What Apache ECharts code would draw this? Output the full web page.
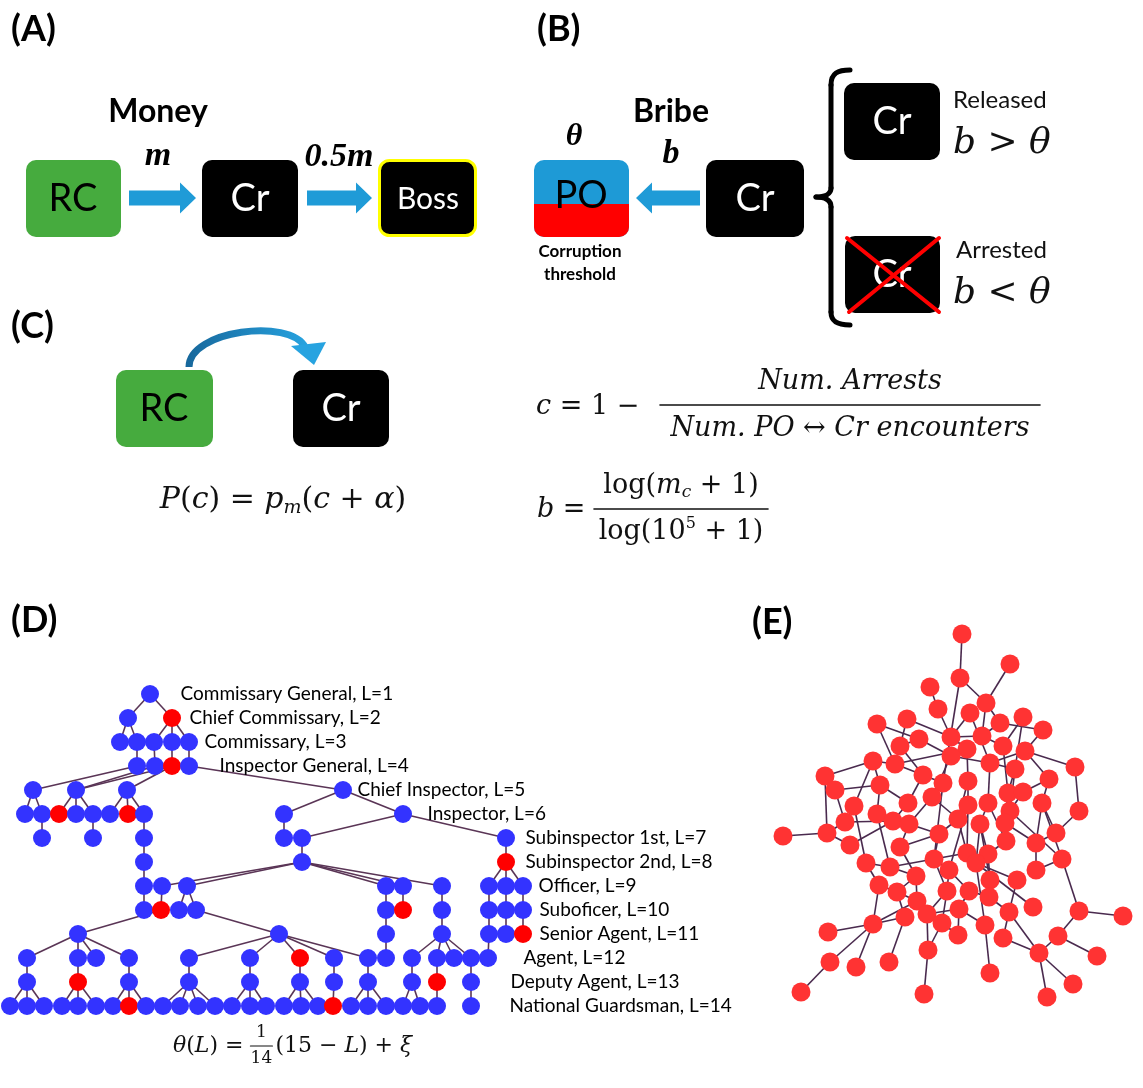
<!DOCTYPE html>
<html>
<head>
<meta charset="utf-8">
<script src="https://cdn.jsdelivr.net/npm/echarts@6.0.0/dist/echarts.min.js"></script>
<style>
  html, body { margin: 0; padding: 0; background: #fff; }
  #chart { width: 1143px; height: 1088px; }
</style>
</head>
<body>
<div id="chart"></div>
<script>
// ---------- (D) police hierarchy tree ----------
// horizontal position of every officer, one row per rank level L = 1..14
const treeRows = [
  [150],
  [128, 172],
  [120, 137, 154, 172, 189],
  [137, 155, 172, 189],
  [33, 76, 127, 343],
  [25, 42, 59, 76, 93, 110, 128, 144, 284, 403],
  [42, 93, 144, 284, 302, 506],
  [144, 302, 506],
  [144, 162, 187, 386, 403, 442, 489, 506, 523],
  [144, 161, 179, 196, 386, 403, 442, 489, 506, 523],
  [78, 279, 386, 442, 489, 506, 523],
  [27, 78, 96, 129, 189, 250, 300, 334, 368, 386, 412, 437, 454, 471, 488],
  [27, 78, 129, 189, 250, 300, 334, 368, 412, 437, 471],
  [10, 27, 44, 62, 78, 96, 113, 129, 146, 163, 180, 198, 215, 232, 250, 266, 284, 301, 318, 333, 351, 368, 386, 403, 420, 437, 471]
];
// corrupt officers: [level, index in row]
const treeCorrupt = [[2,1],[4,2],[6,2],[6,6],[8,2],[10,1],[10,5],[11,6],[12,6],[13,1],[13,9],[14,7],[14,19]];
// chain of command: [parent level, parent index, child index in next level]
const treeLinks = [
  [1,0,0],[1,0,1],
  [2,0,0],[2,0,1],[2,1,2],[2,1,3],[2,1,4],
  [3,1,0],[3,2,1],[3,3,2],[3,4,3],
  [4,0,0],[4,1,1],[4,2,1],[4,2,2],[4,3,3],
  [5,0,0],[5,0,1],[5,1,2],[5,1,3],[5,1,4],[5,2,5],[5,2,6],[5,2,7],[5,3,8],[5,3,9],
  [6,1,0],[6,4,1],[6,7,2],[6,8,3],[6,9,4],[6,9,5],
  [7,2,0],[7,4,1],[7,5,2],
  [8,0,0],[8,1,1],[8,1,2],[8,1,3],[8,1,4],[8,1,5],[8,2,6],[8,2,7],[8,2,8],
  [9,0,0],[9,1,1],[9,2,2],[9,2,3],[9,3,4],[9,4,5],[9,5,6],[9,6,7],[9,7,8],[9,8,9],
  [10,1,0],[10,3,1],[10,4,2],[10,6,3],[10,7,4],[10,8,5],[10,9,6],
  [11,0,0],[11,0,1],[11,0,2],[11,0,3],[11,1,4],[11,1,5],[11,1,6],[11,1,7],[11,1,8],[11,2,9],[11,3,10],[11,3,11],[11,3,12],[11,3,13],[11,4,14],
  [12,0,0],[12,1,1],[12,3,2],[12,4,3],[12,5,4],[12,6,5],[12,7,6],[12,8,7],[12,10,8],[12,11,9],[12,13,10],
  [13,0,0],[13,0,1],[13,0,2],[13,1,3],[13,1,4],[13,1,5],[13,2,6],[13,2,7],[13,2,8],[13,3,9],[13,3,10],[13,3,11],[13,3,12],
  [13,4,13],[13,4,14],[13,4,15],[13,5,16],[13,5,17],[13,5,18],[13,6,19],[13,7,20],[13,7,21],[13,7,22],[13,8,23],[13,8,24],[13,9,25],[13,10,26]
];
const rankNames = ['Commissary General', 'Chief Commissary', 'Commissary', 'Inspector General', 'Chief Inspector',
  'Inspector', 'Subinspector 1st', 'Subinspector 2nd', 'Officer', 'Suboficer', 'Senior Agent', 'Agent',
  'Deputy Agent', 'National Guardsman'];
const rankLabelX = [180, 189, 204, 219, 357, 427, 525, 525, 538, 539, 539, 523, 510, 509];

// ---------- (E) criminal network ----------
const netX = [202,250,200,170,226,178,210,147,117,240,263,283,159,191,222,140,207,243,265,191,113,135,230,315,255,65,163,289,208,183,
  120,75,248,263,172,282,148,228,208,94,319,250,117,133,149,85,198,220,245,23,67,179,296,90,140,246,276,207,228,216,
  174,302,106,130,189,276,156,230,257,119,137,187,209,229,157,273,199,249,319,363,145,167,113,182,225,298,68,198,243,168,
  279,337,70,96,129,230,313,41,164,287];
const netY = [24,54,68,77,93,99,103,109,114,113,107,120,129,127,126,136,139,136,141,146,151,154,153,157,159,166,165,169,171,173,
  175,180,183,182,187,193,193,193,195,196,201,201,204,211,214,212,209,214,213,226,223,224,223,235,237,231,233,243,244,253,
  249,249,253,257,260,260,266,270,270,275,282,281,281,287,291,297,299,302,301,306,307,304,314,313,315,326,322,325,328,340,
  343,346,352,357,352,363,374,382,384,387];
const netLinks = [
  [1,3],[2,5],[3,5],[3,30],[4,6],[6,14],[8,14],[8,16],[9,22],[13,20],[13,16],
  [5,10],[5,15],[10,12],[11,18],[12,19],[14,15],[14,17],[15,18],[19,24],[19,28],[19,23],
  [7,14],[7,23],[16,27],[17,29],[17,22],[20,35],[20,23],
  [21,26],[21,22],[21,31],[21,40],[22,27],[23,38],[23,25],
  [25,33],[25,42],[26,32],[26,51],[27,30],[27,37],[28,34],[28,36],
  [29,39],[29,47],[30,61],[31,32],[31,37],[31,43],[33,34],[33,49],[35,47],[35,45],
  [36,57],[36,53],[37,44],[38,48],[38,56],[39,58],[40,63],[40,46],[42,62],[42,56],
  [43,64],[43,44],[44,54],[44,46],[45,52],[45,55],[46,51],[47,58],[47,52],[48,59],[48,60],
  [49,56],[49,57],[50,51],[51,54],[52,61],[52,55],[53,57],[41,53],[24,41],[56,59],[57,66],
  [58,60],[59,60],[58,61],[60,69],[60,76],[60,85],[61,64],[61,65],[61,72],[63,64],[63,70],
  [64,67],[65,72],[65,73],[67,75],[67,71],[68,74],[68,59],[70,83],[70,71],[71,81],[71,75],
  [72,84],[72,82],[73,77],[73,74],[74,78],[75,82],[75,83],[77,88],[77,85],[77,82],
  [78,91],[78,89],[81,83],[82,90],[84,90],[84,88],[85,96],[89,91],[62,79],[79,80],[79,86],
  [86,91],[86,92],[91,97],[91,100],[83,87],[83,93],[93,98],[83,94],[81,95],[90,99],
  [11,25],[18,33],[9,13],[39,65],[48,68],[66,62],[69,78],[55,67],[32,46],[34,42],[36,62],[10,15]
];

// ---------- colours and fonts ----------
const BLUE_NODE = '#3333ff', RED_NODE = '#ff0000', NET_NODE = '#ff3333', EDGE = '#5a3556';
const ARROW = '#1f9bd7', GREEN = '#46ab3e';
const UI = 'Lato, "Open Sans", sans-serif';
const FI = s => `italic ${s}px "DejaVu Serif", serif`;
const FR = s => `${s}px "DejaVu Serif", serif`;
const FB = s => `italic bold ${s}px "Liberation Serif", serif`;

// ---------- small drawing helpers for the schematic panels ----------
const mctx = document.createElement('canvas').getContext('2d');
function measure(s, font) { mctx.font = font; return mctx.measureText(s).width; }
function text(x, y, s, font, fill = '#000', align = 'center') {
  return { type: 'text', x, y, style: { text: s, font, fill, align, verticalAlign: 'middle' } };
}
function box(x, y, w, h, fill, extra = {}) {
  return { type: 'rect', shape: { x, y, width: w, height: h, r: extra.r ?? 10 },
    style: { fill, stroke: extra.stroke || null, lineWidth: extra.lw || 0 } };
}
function line(x1, y1, x2, y2, stroke, lw) {
  return { type: 'line', shape: { x1, y1, x2, y2 }, style: { stroke, lineWidth: lw, lineCap: 'round' } };
}
function bez(x1, y1, cpx1, cpy1, cpx2, cpy2, x2, y2, stroke, lw) {
  return { type: 'bezierCurve', shape: { x1, y1, cpx1, cpy1, cpx2, cpy2, x2, y2 },
    style: { stroke, lineWidth: lw, fill: null, lineCap: 'round' } };
}
// block arrow; dir = 1 points right, -1 points left
function blockArrow(tail, tip, cy, dir) {
  const sh = 7.5, hh = 15.5, hw = 16 * dir;
  return { type: 'polygon', shape: { points: [
    [tail, cy - sh], [tip - hw, cy - sh], [tip - hw, cy - hh], [tip, cy],
    [tip - hw, cy + hh], [tip - hw, cy + sh], [tail, cy + sh]] }, style: { fill: ARROW } };
}
// a run of differently styled glyph groups laid out left to right: [text, font, dy]
function formula(x, y, runs, anchor = 'left') {
  const ws = runs.map(r => measure(r[0], r[1]));
  const total = ws.reduce((a, b) => a + b, 0);
  let cx = anchor === 'center' ? x - total / 2 : x;
  const els = runs.map((r, i) => {
    const el = text(cx, y + (r[2] || 0), r[0], r[1], '#111', 'left');
    cx += ws[i];
    return el;
  });
  return { els, width: total };
}

const g = [];
// panel letters
g.push(text(11, 29, '(A)', `bold 36px ${UI}`, '#000', 'left'));
g.push(text(537, 29, '(B)', `bold 36px ${UI}`, '#000', 'left'));
g.push(text(11, 326, '(C)', `bold 36px ${UI}`, '#000', 'left'));
g.push(text(11, 620, '(D)', `bold 36px ${UI}`, '#000', 'left'));
g.push(text(752, 622, '(E)', `bold 36px ${UI}`, '#000', 'left'));

// (A) money flow
g.push(text(158, 112, 'Money', `bold 32px ${UI}`));
g.push(text(158, 156, 'm', FB(34)));
g.push(text(339, 157, '0.5m', FB(34)));
g.push(box(26, 160, 95, 77, GREEN));
g.push(text(73, 199, 'RC', `38px ${UI}`, '#000'));
g.push(blockArrow(129, 196, 198, 1));
g.push(box(202, 160, 96, 77, '#000'));
g.push(text(250, 199, 'Cr', `38px ${UI}`, '#fff'));
g.push(blockArrow(307, 372, 198, 1));
g.push(box(379.5, 160.5, 96, 75, '#000', { stroke: '#ffff00', lw: 3 }));
g.push(text(428, 199, 'Boss', `30px ${UI}`, '#fff'));

// (B) bribe and police officer
g.push(text(671, 112, 'Bribe', `bold 32px ${UI}`));
g.push(text(574, 137, 'θ', FB(32)));
g.push(text(671, 154, 'b', FB(34)));
g.push(box(534, 160, 95, 77, '#1e9ad6'));
g.push(box(534, 204, 95, 33, '#ff0000', { r: [0, 0, 10, 10] }));
g.push(text(581, 196, 'PO', `38px ${UI}`, '#000'));
g.push(text(580, 252, 'Corruption', `bold 17px ${UI}`));
g.push(text(580, 275, 'threshold', `bold 17px ${UI}`));
g.push(blockArrow(700, 636, 198, -1));
g.push(box(706, 160, 98, 77, '#000'));
g.push(text(755, 199, 'Cr', `38px ${UI}`, '#fff'));
// curly bracket
g.push(bez(850, 70, 838, 70, 831, 73, 831, 85, '#000', 5));
g.push(line(831, 85, 831, 188, '#000', 5));
g.push(bez(831, 188, 831, 194, 825, 197, 816, 197, '#000', 5));
g.push(bez(816, 197, 825, 197, 831, 200, 831, 207, '#000', 5));
g.push(line(831, 207, 831, 312, '#000', 5));
g.push(bez(831, 312, 831, 322, 838, 325, 850, 325, '#000', 5));
// released
g.push(box(844, 83, 96, 77, '#000'));
g.push(text(892, 122, 'Cr', `38px ${UI}`, '#fff'));
g.push(text(953, 100, 'Released', `24px ${UI}`, '#111', 'left'));
g.push(...formula(953, 144, [['b', FI(36)], [' > ', FR(36)], ['θ', FI(36)]]).els);
// arrested
g.push(box(845, 236, 95, 77, '#000'));
g.push(text(892, 275, 'Cr', `38px ${UI}`, '#fff'));
g.push(line(847, 238, 939, 312, '#ff0000', 4));
g.push(line(939, 238, 849, 312, '#ff0000', 4));
g.push(text(956, 250, 'Arrested', `24px ${UI}`, '#111', 'left'));
g.push(...formula(953, 294, [['b', FI(36)], [' < ', FR(36)], ['θ', FI(36)]]).els);

// (C) recruitment
g.push(box(116, 370, 97, 77, GREEN));
g.push(text(164, 409, 'RC', `38px ${UI}`, '#000'));
g.push(box(293, 370, 96, 77, '#000'));
g.push(text(341, 409, 'Cr', `38px ${UI}`, '#fff'));
g.push({ type: 'bezierCurve', shape: { x1: 189, y1: 367, cpx1: 189, cpy1: 330, cpx2: 290, cpy2: 318, x2: 305, y2: 347 },
  style: { fill: null, lineWidth: 7, stroke: { type: 'linear', x: 0, y: 0, x2: 1, y2: 0,
    colorStops: [{ offset: 0, color: '#17679b' }, { offset: 1, color: '#27a3e0' }] } } });
g.push({ type: 'polygon', shape: { points: [[291, 346], [326, 342], [314, 365]] }, style: { fill: '#27a3e0' } });
g.push(...formula(283, 500, [['P', FI(30)], ['(', FR(30)], ['c', FI(30)], [') = ', FR(30)], ['p', FI(30)],
  ['m', FI(19), 8], ['(', FR(30)], ['c', FI(30)], [' + ', FR(30)], ['α', FI(30)], [')', FR(30)]], 'center').els);

// corruption level and bribe size
g.push(...formula(536, 407, [['c', FI(27)], [' = 1 − ', FR(27)]]).els);
g.push(...formula(850, 382, [['Num. Arrests', FI(27)]], 'center').els);
g.push(line(660, 405, 1040, 405, '#111', 1.6));
g.push(...formula(850, 429, [['Num. PO ', FI(27)], ['↔', FR(27)], [' Cr encounters', FI(27)]], 'center').els);
g.push(...formula(537, 510, [['b', FI(27)], [' =', FR(27)]]).els);
g.push(...formula(681, 486, [['log(', FR(27)], ['m', FI(27)], ['c', FI(17), 7], [' + 1)', FR(27)]], 'center').els);
g.push(line(594, 509, 768, 509, '#111', 1.6));
g.push(...formula(681, 532, [['log(10', FR(27)], ['5', FR(16), -8], [' + 1)', FR(27)]], 'center').els);

// threshold as a function of rank
const th1 = formula(173, 1046, [['θ', FI(22)], ['(', FR(22)], ['L', FI(22)], [') = ', FR(22)]]);
g.push(...th1.els);
const fx = 173 + th1.width + 11;
g.push(text(fx, 1033, '1', FR(17), '#111'));
g.push(line(fx - 11, 1046, fx + 11, 1046, '#111', 1.2));
g.push(text(fx, 1059, '14', FR(17), '#111'));
g.push(...formula(fx + 14, 1046, [['(15 − ', FR(22)], ['L', FI(22)], [') + ', FR(22)], ['ξ', FI(22)]]).els);

// ---------- series data ----------
const corruptSet = new Set(treeCorrupt.map(([l, i]) => l + ':' + i));
const treeNodes = [];
treeRows.forEach((row, li) => row.forEach((x, i) => {
  const L = li + 1;
  treeNodes.push({ name: 't' + L + '_' + i, value: [x, L],
    itemStyle: { color: corruptSet.has(L + ':' + i) ? RED_NODE : BLUE_NODE } });
}));
const treeEdges = treeLinks.map(([L, p, c]) => ({ source: 't' + L + '_' + p, target: 't' + (L + 1) + '_' + c }));
const rankLabels = rankNames.map((n, i) => [rankLabelX[i], i + 1, n + ', L=' + (i + 1)]);

const netNodes = netX.map((x, i) => ({ name: 'n' + (i + 1), value: [x, netY[i]] }));
const netEdges = netLinks.map(([a, b]) => ({ source: 'n' + a, target: 'n' + b }));

const chart = echarts.init(document.getElementById('chart'), null, { renderer: 'canvas' });
chart.setOption({
  animation: false,
  backgroundColor: '#fff',
  grid: [
    { left: 0, top: 670, width: 560, height: 360 },
    { left: 760, top: 610, width: 380, height: 400 }
  ],
  xAxis: [
    { type: 'value', gridIndex: 0, min: 0, max: 560, show: false },
    { type: 'value', gridIndex: 1, min: 0, max: 380, show: false }
  ],
  yAxis: [
    { type: 'value', gridIndex: 0, min: 0, max: 15, inverse: true, show: false },
    { type: 'value', gridIndex: 1, min: 0, max: 400, inverse: true, show: false }
  ],
  graphic: { elements: g },
  series: [
    {
      type: 'graph', coordinateSystem: 'cartesian2d', xAxisIndex: 0, yAxisIndex: 0,
      symbol: 'circle', symbolSize: 18, data: treeNodes, links: treeEdges,
      lineStyle: { color: EDGE, width: 1.6, opacity: 1, curveness: 0 },
      itemStyle: { borderWidth: 0 }, label: { show: false }, emphasis: { disabled: true }
    },
    {
      type: 'scatter', xAxisIndex: 0, yAxisIndex: 0, symbolSize: 1,
      itemStyle: { color: 'rgba(0,0,0,0)' },
      data: rankLabels,
      label: { show: true, position: 'right', distance: 0, formatter: p => p.data[2],
        fontFamily: UI, fontSize: 19, color: '#000', opacity: 1, textBorderWidth: 0 },
      emphasis: { disabled: true }
    },
    {
      type: 'graph', coordinateSystem: 'cartesian2d', xAxisIndex: 1, yAxisIndex: 1,
      symbol: 'circle', symbolSize: 19, data: netNodes, links: netEdges,
      lineStyle: { color: '#4a2a4e', width: 1.6, opacity: 1, curveness: 0 },
      itemStyle: { color: NET_NODE }, label: { show: false }, emphasis: { disabled: true }
    }
  ]
});
</script>
</body>
</html>
